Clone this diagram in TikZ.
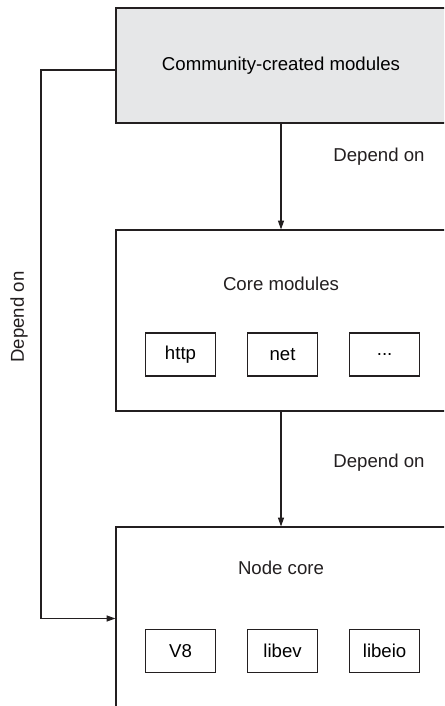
\documentclass[tikz,border=0pt]{standalone}
\usepackage{fontspec}
\setmainfont{Liberation Sans}
\usepackage{tikz}
\usetikzlibrary{arrows.meta, positioning, calc}
\definecolor{nodegray}{RGB}{230, 231, 232}
\definecolor{nodeline}{RGB}{35, 31, 32}
\tikzset{
  layerbox/.style={rectangle, draw=nodeline, line width=0.6pt, minimum width=6.6cm,
                   minimum height=#1, inner sep=0pt, font=\fontsize{10.6}{12.7}\selectfont},
  layerbox/.default=3.62cm,
  libbox/.style={rectangle, draw=nodeline, line width=0.6pt, minimum width=1.4cm,
                 minimum height=0.86cm, inner sep=0pt, font=\fontsize{10.6}{12.7}\selectfont},
  arrow/.style={-{Triangle[length=5pt, width=3.4pt]}, line width=0.6pt, color=nodeline},
  deplabel/.style={font=\fontsize{10.6}{12.7}\selectfont, text=nodeline},
}

\begin{document}
\begin{tikzpicture}
        \useasboundingbox (0,0) rectangle (8.88,14.12);
        \clip (0,0) rectangle (8.88,14.12);

        % Community box
        \node[layerbox=2.3cm, fill=nodegray] (comm) at (5.62, 12.81) {Community-created modules};

        % Core modules box
        \node[layerbox] (core) at (5.62, 7.71) {};
        \node[deplabel] (coret) at (5.62, 8.45) {Core modules};
        \node[libbox] (http) at (3.61, 7.03) {http};
        \node[libbox, right=0.62cm of http] (net) {net};
        \node[libbox, right=0.62cm of net] (more) {...};

        % Node core box
        \node[layerbox=3.66cm] (ncore) at (5.62, 1.75) {};
        \node[deplabel] (ncoret) at (5.62, 2.77) {Node core};
        \node[libbox] (veight) at (3.61, 1.10) {V8};
        \node[libbox, right=0.62cm of veight] (libev) {libev};
        \node[libbox, right=0.62cm of libev] (libeio) {libeio};

        % Arrows
        \draw[arrow] (comm.south) -- (core.north);
        \draw[arrow] (core.south) -- (ncore.north);
        \coordinate (bend) at (0.82, 12.72);
        \draw[arrow] ([yshift=-0.09cm]comm.west) -- (bend) |- (ncore.west);

        \node[deplabel] (dep1) at (7.58, 10.98) {Depend on};
        \node[deplabel] (dep2) at (7.58, 4.87) {Depend on};
        \node[deplabel, rotate=90] (dep3) at (0.38, 7.78) {Depend on};
      \end{tikzpicture}
\end{document}
